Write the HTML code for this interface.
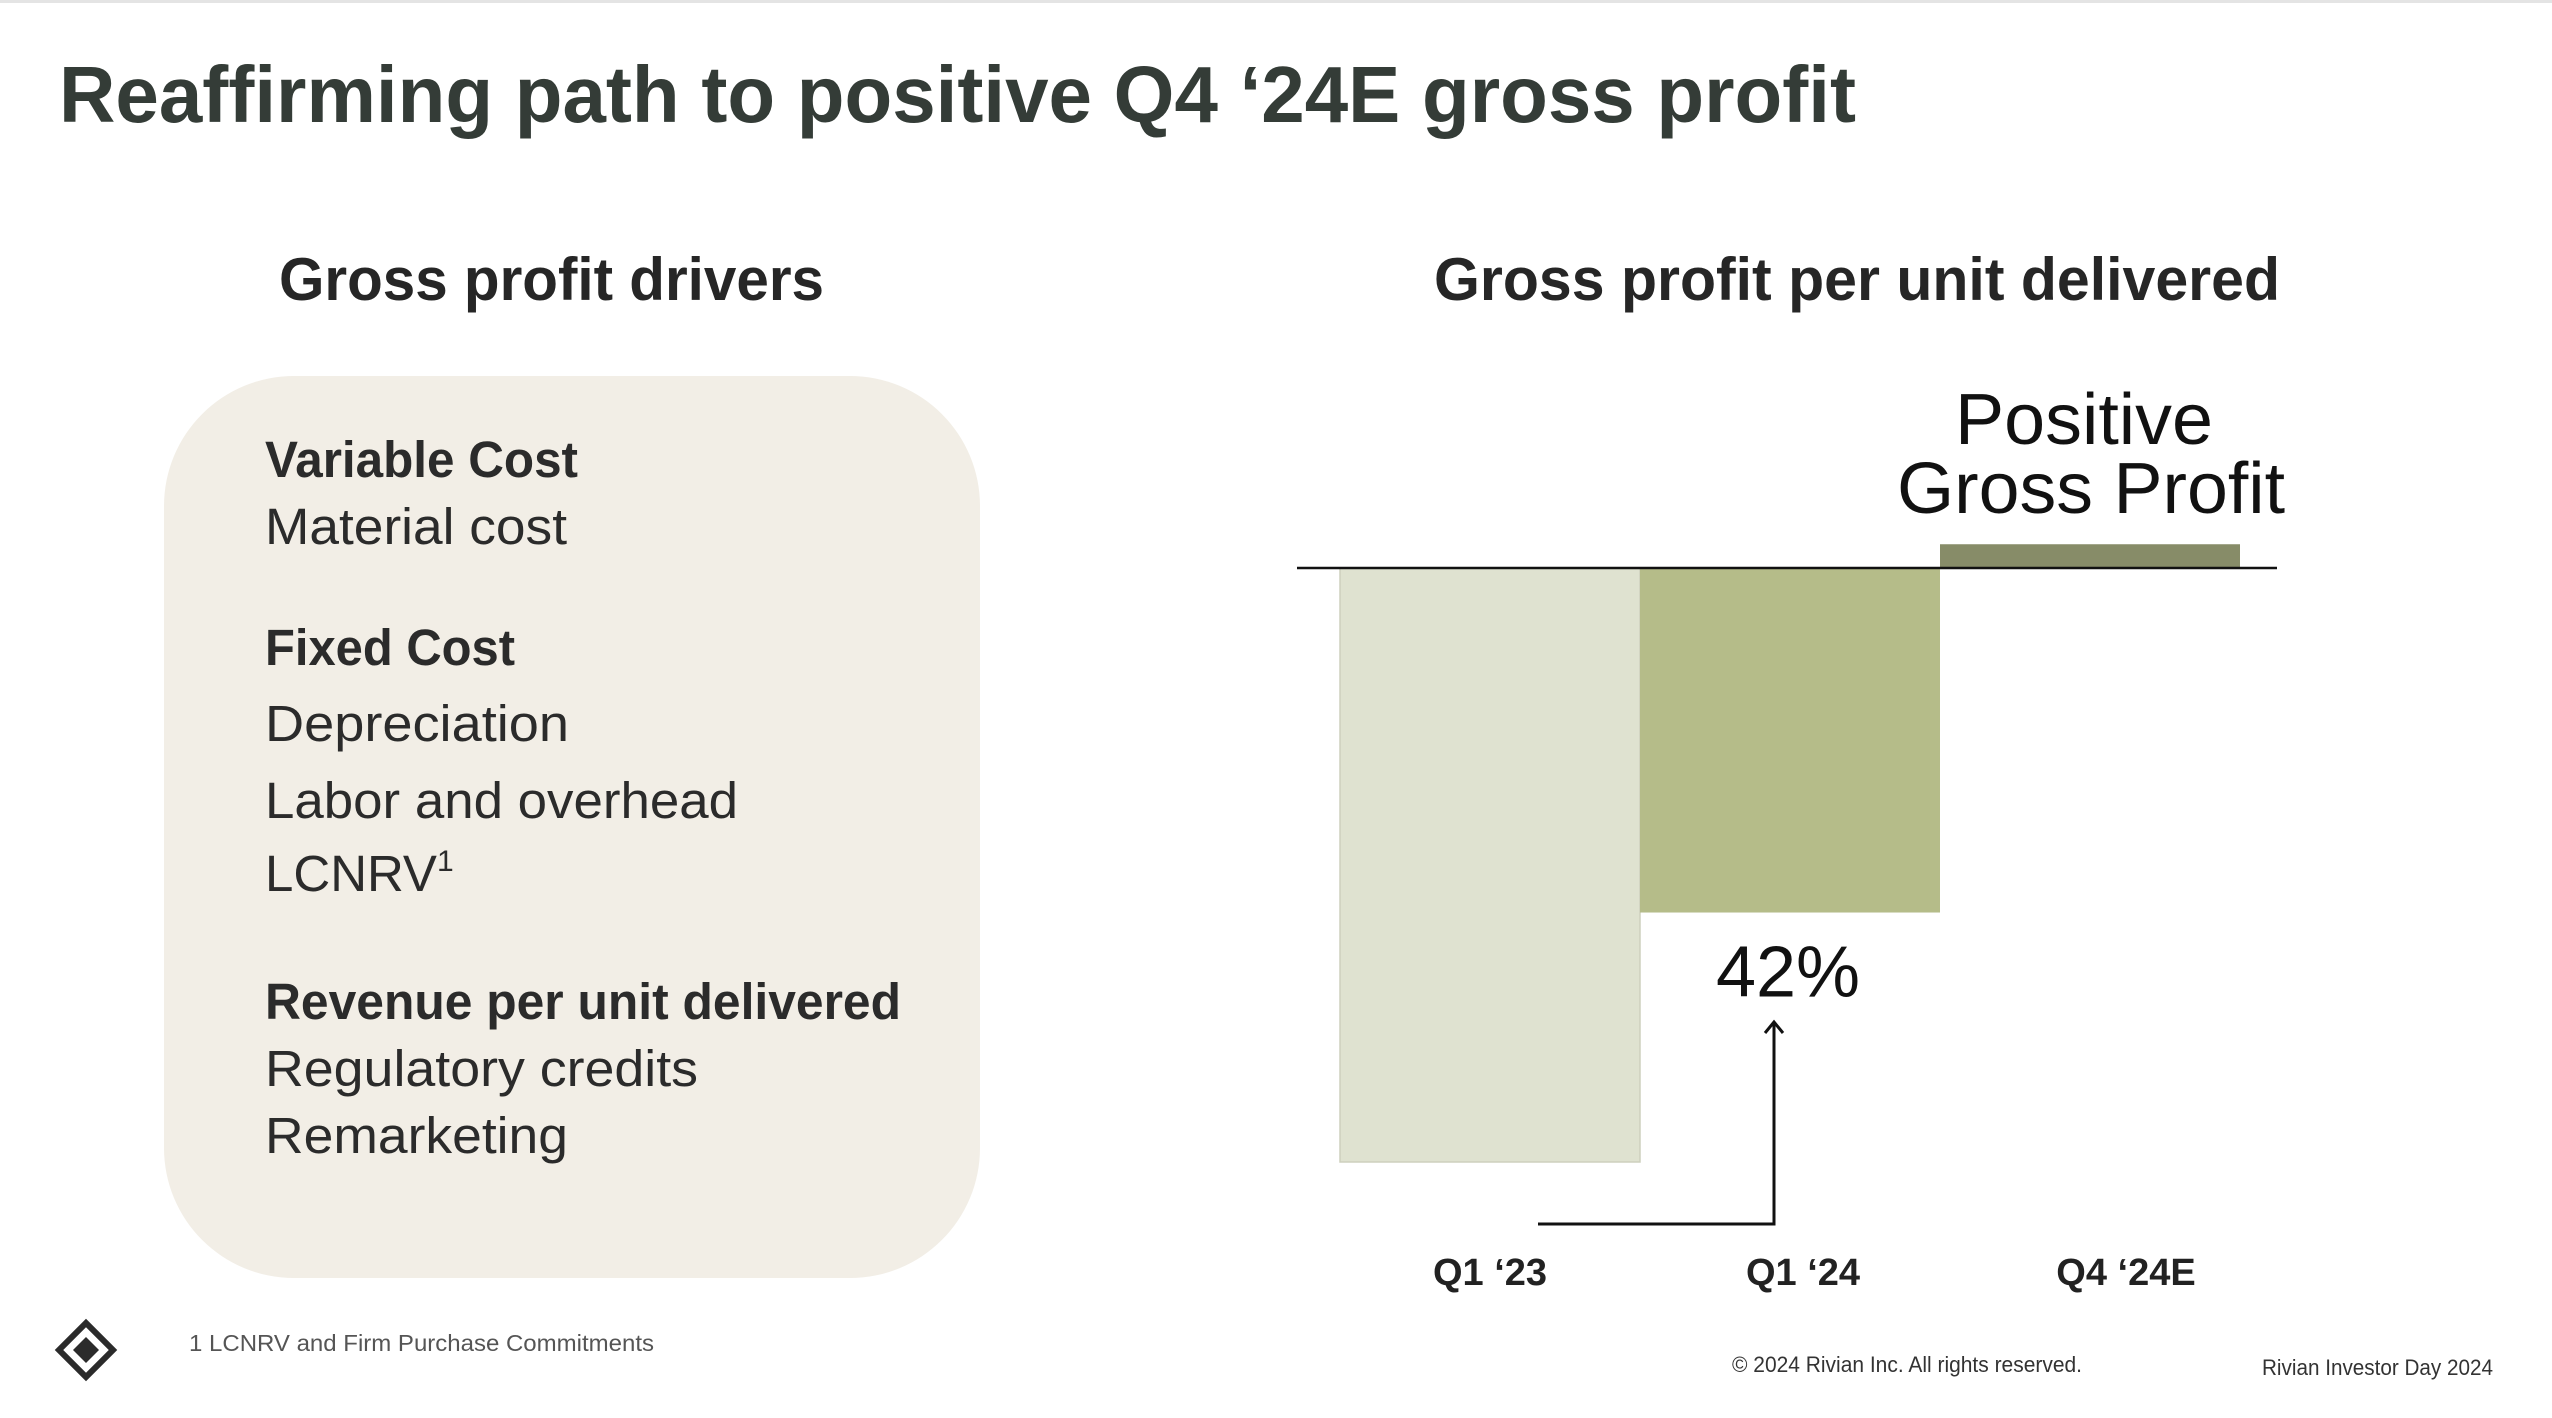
<!DOCTYPE html>
<html><head><meta charset="utf-8"><style>
html,body{margin:0;padding:0;background:#fff;}
svg{display:block;font-family:"Liberation Sans",sans-serif;}
</style></head><body>
<svg id="page" width="2552" height="1418" viewBox="0 0 2552 1418">
<rect x="0" y="0" width="2552" height="3" fill="#e4e4e4"/>
<text x="59" y="122" font-size="80" font-weight="bold" fill="#343c37" textLength="1797" lengthAdjust="spacingAndGlyphs">Reaffirming path to positive Q4 ‘24E gross profit</text>
<text x="279" y="300" font-size="60" font-weight="bold" fill="#262626" textLength="545" lengthAdjust="spacingAndGlyphs">Gross profit drivers</text>
<text x="1434" y="300" font-size="60" font-weight="bold" fill="#262626" textLength="846" lengthAdjust="spacingAndGlyphs">Gross profit per unit delivered</text>
<rect x="164" y="376" width="816" height="902" rx="130" fill="#f2eee6"/>
<g fill="#2b2b2b" font-size="51">
<text x="265" y="477" font-weight="bold" textLength="313" lengthAdjust="spacingAndGlyphs">Variable Cost</text>
<text x="265" y="544" textLength="302" lengthAdjust="spacingAndGlyphs">Material cost</text>
<text x="265" y="665" font-weight="bold" textLength="250" lengthAdjust="spacingAndGlyphs">Fixed Cost</text>
<text x="265" y="741" textLength="304" lengthAdjust="spacingAndGlyphs">Depreciation</text>
<text x="265" y="818" textLength="473" lengthAdjust="spacingAndGlyphs">Labor and overhead</text>
<text x="265" y="891">LCNRV<tspan font-size="30" dy="-20">1</tspan></text>
<text x="265" y="1019" font-weight="bold" textLength="636" lengthAdjust="spacingAndGlyphs">Revenue per unit delivered</text>
<text x="265" y="1086" textLength="433" lengthAdjust="spacingAndGlyphs">Regulatory credits</text>
<text x="265" y="1153" textLength="303" lengthAdjust="spacingAndGlyphs">Remarketing</text>
</g>
<g id="chart"></g>
<g>
<g transform="translate(86,1350)">
<path d="M0,-27 L27,0 L0,27 L-27,0 Z" fill="none" stroke="#2b2b2b" stroke-width="6"/>
<path d="M0,-13 L13,0 L0,13 L-13,0 Z" fill="#2b2b2b"/>
</g>
<text x="189" y="1351" font-size="23" fill="#555" textLength="465" lengthAdjust="spacingAndGlyphs">1   LCNRV and Firm Purchase Commitments</text>
<text x="1732" y="1372" font-size="22" fill="#333" textLength="350" lengthAdjust="spacingAndGlyphs">© 2024 Rivian Inc. All rights reserved.</text>
<text x="2262" y="1375" font-size="22" fill="#333" textLength="231" lengthAdjust="spacingAndGlyphs">Rivian Investor Day 2024</text>
</g>
</svg>
<script>
const categories = ["Q1 ‘23", "Q1 ‘24", "Q4 ‘24E"];
const values = [-100, -58, 4];
const fills = ["#dfe2d0", "#b5bc89", "#878c68"];
const annotation = "42%";

const NS = "http://www.w3.org/2000/svg";
const chart = document.getElementById("chart");
const x0 = 1340, bw = 300, zeroY = 568, pxPerUnit = 5.94;
const labelShift = [0, 13, 36];
function xPos(i){ return x0 + i * bw; }
function yPos(v){ return zeroY - v * pxPerUnit; }
function mk(tag, attrs){ const e = document.createElementNS(NS, tag); for (const k in attrs) e.setAttribute(k, attrs[k]); chart.appendChild(e); return e; }

values.forEach((v, i) => {
  const y1 = Math.min(yPos(v), zeroY), y2 = Math.max(yPos(v), zeroY);
  const r = mk("rect", {x: xPos(i), y: y1, width: bw, height: y2 - y1, fill: fills[i], stroke: i === 0 ? "#cdd0bd" : "none", "stroke-width": 1.5});
  
  
  const t = mk("text", {x: xPos(i) + bw / 2 + labelShift[i], y: 1285, "font-size": 38, "font-weight": "bold", fill: "#222", "text-anchor": "middle"});
  t.textContent = categories[i];
  
  
});

const axis = mk("line", {x1: 1297, x2: 2277, y1: zeroY, y2: zeroY, stroke: "#111", "stroke-width": 2.5});



const pct = mk("text", {x: xPos(1) + bw / 2 - 2, y: yPos(values[1]) + 84, "font-size": 72, fill: "#111", "text-anchor": "middle"});
pct.textContent = annotation;



const ax = xPos(1) + 134;
const arrow = mk("path", {d: `M1538,1224 L${ax},1224 L${ax},1022 M${ax-9},1033 L${ax},1022 L${ax+9},1033`, fill: "none", stroke: "#111", "stroke-width": 3});



const p1 = mk("text", {x: 2084, y: 444, "font-size": 72, fill: "#111", "text-anchor": "middle", textLength: 258, lengthAdjust: "spacingAndGlyphs"});
p1.textContent = "Positive";


const p2 = mk("text", {x: 2091, y: 513, "font-size": 72, fill: "#111", "text-anchor": "middle", textLength: 388, lengthAdjust: "spacingAndGlyphs"});
p2.textContent = "Gross Profit";


</script>
</body></html>
